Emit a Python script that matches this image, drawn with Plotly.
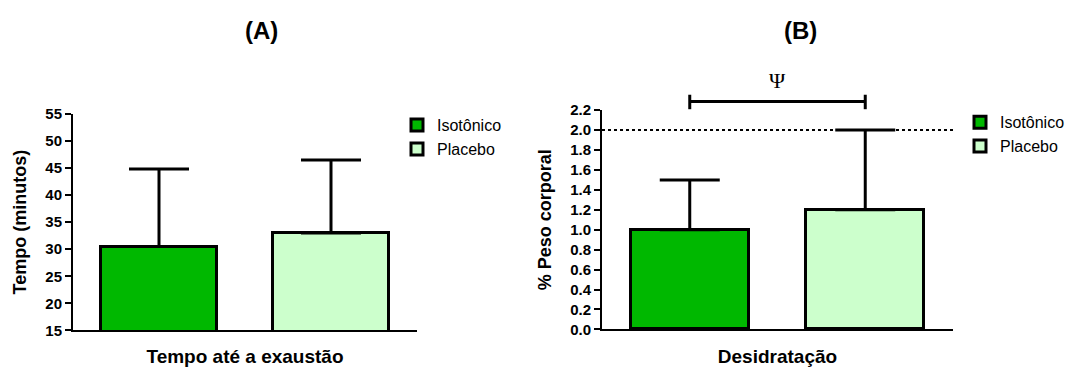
import plotly.graph_objects as go

# ---- data ----
categories = ["Isotônico", "Placebo"]
colors = ["#00b800", "#ccffcc"]
tempo_mean = [30.5, 33.0]      # minutos
tempo_sd = [14.3, 13.5]
desid_mean = [1.0, 1.2]        # % peso corporal
desid_sd = [0.5, 0.8]
limite_desid = 2.0
tick_a = [15, 20, 25, 30, 35, 40, 45, 50, 55]
tick_b = [0.0, 0.2, 0.4, 0.6, 0.8, 1.0, 1.2, 1.4, 1.6, 1.8, 2.0, 2.2]

FONT = "Liberation Sans, Arial, sans-serif"
W, H = 1081, 367

fig = go.Figure()

for i, cat in enumerate(categories):
    fig.add_trace(go.Bar(
        x=[cat], y=[tempo_mean[i]], name=cat, width=0.67,
        marker=dict(color=colors[i], line=dict(color="black", width=3)),
        error_y=dict(type="data", symmetric=False, array=[tempo_sd[i]], arrayminus=[0],
                     color="black", thickness=3, width=30),
        xaxis="x", yaxis="y", legend="legend", legendgroup="a" + str(i),
    ))
for i, cat in enumerate(categories):
    fig.add_trace(go.Bar(
        x=[cat], y=[desid_mean[i]], name=cat, width=0.67,
        marker=dict(color=colors[i], line=dict(color="black", width=3)),
        error_y=dict(type="data", symmetric=False, array=[desid_sd[i]], arrayminus=[0],
                     color="black", thickness=3, width=30),
        xaxis="x2", yaxis="y2", legend="legend2", legendgroup="b" + str(i),
    ))

axis_common = dict(showline=True, linecolor="black", linewidth=2, ticks="outside",
                   ticklen=6, tickwidth=2, tickcolor="black", showgrid=False, zeroline=False,
                   tickfont=dict(family=FONT, size=15, color="black", weight="bold"))
xcommon = dict(showline=True, linecolor="black", linewidth=2, showgrid=False, zeroline=False,
               showticklabels=False, ticks="", type="category", range=[-0.5, 1.5])
title_font = dict(family=FONT, size=18, color="black", weight="bold")
xtitle_font = dict(family=FONT, size=19, color="black", weight="bold")

fig.update_layout(
    width=W, height=H, margin=dict(l=0, r=0, t=0, b=0),
    plot_bgcolor="white", paper_bgcolor="white",
    barmode="overlay", bargap=0,
    xaxis=dict(domain=[73 / W, 417 / W], anchor="y",
               title=dict(text="Tempo até a exaustão", standoff=19, font=xtitle_font),
               **xcommon),
    yaxis=dict(domain=[30 / H, 257 / H], anchor="x", range=[15, 55], tickvals=tick_a,
               title=dict(text="Tempo (minutos)", standoff=14, font=title_font),
               **axis_common),
    xaxis2=dict(domain=[602 / W, 953 / W], anchor="y2",
                title=dict(text="Desidratação", standoff=19, font=xtitle_font),
                **xcommon),
    yaxis2=dict(domain=[31 / H, 261 / H], anchor="x2", range=[0, 2.2], tickvals=tick_b,
                tickformat=".1f",
                title=dict(text="% Peso corporal", standoff=14, font=title_font),
                **axis_common),
    legend=dict(x=397 / W, y=1 - 104 / H, xanchor="left", yanchor="top",
                font=dict(family=FONT, size=16, color="black"), tracegroupgap=0,
                bgcolor="rgba(0,0,0,0)"),
    legend2=dict(x=960 / W, y=1 - 101 / H, xanchor="left", yanchor="top",
                 font=dict(family=FONT, size=16, color="black"), tracegroupgap=0,
                 bgcolor="rgba(0,0,0,0)"),
    showlegend=True,
)

# dotted reference line at 2.0 in panel B
fig.add_shape(type="line", xref="x2 domain", yref="y2", x0=0, x1=1,
              y0=limite_desid, y1=limite_desid, line=dict(color="black", width=2, dash="dot"),
              layer="below")

# significance bracket between the two bars of panel B
fig.add_shape(type="line", xref="x2", yref="y2 domain", x0=categories[0], x1=categories[1],
              y0=1.039, y1=1.039, line=dict(color="black", width=3))
for c in categories:
    fig.add_shape(type="line", xref="x2", yref="y2 domain", x0=c, x1=c,
                  y0=1.004, y1=1.07, line=dict(color="black", width=3))
fig.add_annotation(xref="x2 domain", yref="y2 domain", x=0.5, y=1.135, text="Ψ",
                   xanchor="center", yanchor="middle", showarrow=False,
                   font=dict(family="Liberation Serif, Times New Roman, serif",
                             size=22, color="black"))

# panel titles
fig.add_annotation(xref="paper", yref="paper", x=261 / W, y=1 - 23 / H, text="(A)",
                   xanchor="center", yanchor="middle", showarrow=False,
                   font=dict(family=FONT, size=24, color="black", weight="bold"))
fig.add_annotation(xref="paper", yref="paper", x=800 / W, y=1 - 23 / H, text="(B)",
                   xanchor="center", yanchor="middle", showarrow=False,
                   font=dict(family=FONT, size=24, color="black", weight="bold"))

fig.write_html("out.html")
